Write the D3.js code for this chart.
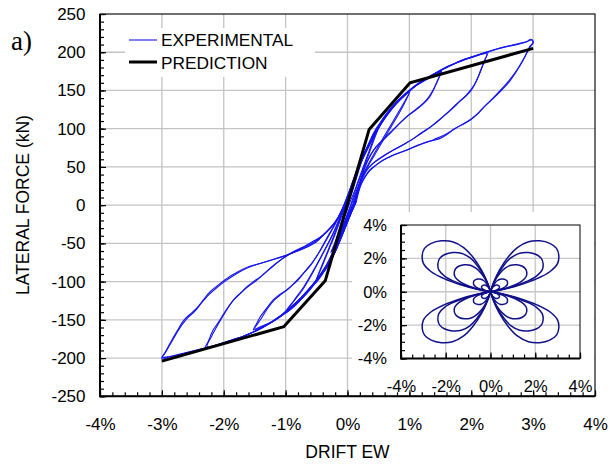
<!DOCTYPE html>
<html>
<head>
<meta charset="utf-8">
<script src="https://cdnjs.cloudflare.com/ajax/libs/d3/7.8.5/d3.min.js"></script>
<style>
body { margin: 0; background: #fff; }
svg { display: block; font-family: "Liberation Sans", Arial, sans-serif; }
</style>
</head>
<body>
<svg id="chart" width="610" height="468"></svg>
<script>
// ---- data (drift in %, force in kN) ----
var driftTicks = [-4, -3, -2, -1, 0, 1, 2, 3, 4];
var forceTicks = [-250, -200, -150, -100, -50, 0, 50, 100, 150, 200, 250];
var insetTicks = [-4, -2, 0, 2, 4];

var prediction = [[-3, -204], [-1.03, -159], [-0.36, -99], [0.35, 99], [1.01, 160], [3.0, 205]];

var cycle025 = [[0,0],[0.07,16],[0.14,34],[0.22,55],[0.27,66],[0.2,54],[0.12,36],[0.04,14],[-0.04,-6],[-0.12,-28],[-0.2,-48],[-0.27,-62],[-0.2,-52],[-0.12,-34],[-0.04,-14],[0.04,4]];
var cycle050a = [[0.04,4],[0.12,20],[0.2,38],[0.3,60],[0.4,82],[0.5,104],[0.42,94],[0.32,76],[0.2,52],[0.1,30],[0.0,8],[-0.1,-16],[-0.2,-38],[-0.3,-58],[-0.4,-78],[-0.5,-98],[-0.42,-90],[-0.3,-72],[-0.18,-50],[-0.06,-24],[0.05,0]];
var cycle050b = [[0.05,0],[0.14,22],[0.24,44],[0.34,66],[0.44,88],[0.52,106],[0.42,92],[0.3,72],[0.18,48],[0.07,26],[-0.03,4],[-0.13,-20],[-0.24,-44],[-0.35,-66],[-0.45,-86],[-0.52,-102],[-0.42,-92],[-0.3,-74],[-0.17,-50],[-0.05,-24],[0.06,0]];
var cycle100a = [[0.06,0],[0.15,20],[0.25,40],[0.38,60],[0.52,80],[0.68,102],[0.84,124],[0.94,138],[1.0,148],[0.88,140],[0.72,126],[0.56,108],[0.42,88],[0.28,66],[0.16,46],[0.06,22],[-0.04,0],[-0.14,-20],[-0.26,-42],[-0.4,-64],[-0.56,-88],[-0.72,-110],[-0.88,-127],[-1.0,-140],[-0.86,-131],[-0.7,-118],[-0.54,-102],[-0.4,-86],[-0.27,-68],[-0.15,-46],[-0.03,-22],[0.08,0]];
var cycle100b = [[0.08,0],[0.18,24],[0.3,46],[0.44,66],[0.6,88],[0.76,110],[0.9,130],[1.01,150],[0.9,143],[0.75,130],[0.6,115],[0.46,96],[0.32,74],[0.2,52],[0.09,28],[-0.02,4],[-0.12,-16],[-0.24,-38],[-0.38,-60],[-0.54,-84],[-0.7,-106],[-0.86,-124],[-1.02,-142],[-0.88,-134],[-0.72,-121],[-0.56,-106],[-0.42,-89],[-0.28,-70],[-0.15,-46],[-0.02,-20],[0.09,2]];
var cycle150a = [[0.1,0],[0.16,18],[0.23,38],[0.31,56],[0.42,72],[0.56,84],[0.69,94],[0.82,105],[0.96,116],[1.1,124],[1.22,132],[1.33,142],[1.42,156],[1.48,167],[1.52,175],
  [1.42,171],[1.28,165],[1.14,158],[1.0,149],[0.85,138],[0.7,125],[0.55,109],[0.4,89],[0.26,66],[0.14,43],[0.03,18],[-0.07,-2],[-0.2,-24],[-0.34,-44],
  [-0.42,-56],[-0.5,-67],[-0.6,-79],[-0.71,-89],[-0.85,-101],[-0.98,-111],[-1.1,-117],[-1.2,-124],[-1.3,-134],[-1.41,-146],[-1.47,-155],[-1.52,-163],
  [-1.4,-160],[-1.25,-154],[-1.1,-146],[-1.0,-139],[-0.85,-129],[-0.7,-117],[-0.55,-103],[-0.4,-87],[-0.26,-68],[-0.13,-44],[-0.01,-20],[0.1,0]];
var cycle150b = [[0.1,0],[0.17,20],[0.25,42],[0.34,60],[0.46,76],[0.6,88],[0.74,99],[0.88,110],[1.02,120],[1.15,128],[1.27,137],[1.38,150],[1.45,162],[1.51,174],
  [1.4,170],[1.25,163],[1.1,156],[0.95,146],[0.8,134],[0.65,120],[0.5,103],[0.36,82],[0.23,60],[0.12,38],[0.02,14],[-0.08,-6],[-0.22,-28],[-0.36,-48],
  [-0.46,-62],[-0.56,-74],[-0.68,-86],[-0.8,-98],[-0.94,-108],[-1.06,-116],[-1.18,-124],[-1.3,-136],[-1.4,-149],[-1.5,-162],
  [-1.38,-158],[-1.22,-152],[-1.07,-144],[-0.92,-134],[-0.77,-123],[-0.62,-110],[-0.47,-95],[-0.33,-78],[-0.2,-56],[-0.07,-32],[0.05,-8],[0.12,4]];
var cycle227a = [[0.1,0],[0.17,22],[0.26,40],[0.34,49],[0.42,55],[0.58,64],[0.74,72],[0.9,79],[1.05,86],[1.2,95],[1.35,103],[1.49,112],[1.65,123],[1.82,136],[1.98,148],[2.08,162],[2.16,178],[2.22,190],[2.27,200],
  [2.2,199],[2.05,195],[1.9,191],[1.75,186],[1.6,180],[1.5,176],[1.35,169],[1.2,162],[1.05,153],[0.9,143],[0.75,130],[0.6,114],[0.45,94],[0.3,72],[0.18,52],[0.08,30],[-0.02,8],[-0.1,-8],[-0.2,-22],[-0.39,-39],
  [-0.55,-47],[-0.7,-54],[-0.9,-62],[-1.05,-70],[-1.25,-83],[-1.41,-94],[-1.52,-100],[-1.63,-107],[-1.74,-116],[-1.84,-124],[-1.95,-136],[-2.03,-146],[-2.1,-155],[-2.17,-163],[-2.25,-178],[-2.3,-187],
  [-2.15,-184],[-2.0,-180],[-1.85,-176],[-1.7,-172],[-1.55,-167],[-1.4,-161],[-1.25,-154],[-1.1,-146],[-0.95,-136],[-0.8,-125],[-0.65,-112],[-0.5,-98],[-0.36,-84],[-0.23,-66],[-0.1,-42],[0.02,-18],[0.12,2]];
var cycle227b = [[0.12,2],[0.2,26],[0.3,44],[0.4,54],[0.55,63],[0.72,71],[0.9,79],[1.08,88],[1.25,97],[1.42,107],[1.6,120],[1.76,132],[1.92,144],[2.04,156],[2.13,171],[2.2,186],[2.25,198],
  [2.15,197],[2.0,193],[1.85,189],[1.7,184],[1.55,178],[1.4,171],[1.25,164],[1.1,156],[0.95,146],[0.8,134],[0.65,119],[0.5,101],[0.35,79],[0.22,58],[0.1,34],[0.0,10],[-0.1,-10],[-0.22,-25],[-0.4,-40],
  [-0.58,-50],[-0.76,-57],[-0.95,-65],[-1.12,-74],[-1.3,-86],[-1.45,-97],[-1.58,-105],[-1.7,-113],[-1.82,-122],[-1.93,-134],[-2.02,-146],[-2.12,-160],[-2.2,-172],[-2.27,-185],
  [-2.12,-183],[-1.97,-179],[-1.82,-175],[-1.67,-171],[-1.52,-166],[-1.37,-160],[-1.22,-153],[-1.07,-145],[-0.92,-135],[-0.77,-124],[-0.62,-111],[-0.48,-97],[-0.34,-82],[-0.21,-63],[-0.08,-38],[0.04,-14],[0.14,4]];
var cycle300a = [[0.12,2],[0.2,24],[0.28,37],[0.36,46],[0.47,53],[0.58,59],[0.75,66],[0.96,72],[1.12,78],[1.3,83],[1.49,87],[1.6,92],[1.71,99],[1.85,105],[1.98,111],[2.1,119],[2.19,127],[2.32,137],[2.46,148],[2.6,160],[2.73,175],[2.84,190],[2.93,204],[3.0,214],
  [2.96,217],[2.9,214],[2.8,212],[2.65,209],[2.5,206],[2.35,203],[2.2,199],[2.05,195],[1.9,191],[1.75,186],[1.6,181],[1.45,174],[1.3,167],[1.15,159],[1.0,150],[0.85,139],[0.7,126],[0.55,110],[0.4,88],[0.26,64],[0.15,44],[0.05,20],[-0.04,2],[-0.17,-19],[-0.39,-39],
  [-0.5,-48],[-0.66,-55],[-0.85,-61],[-1.0,-66],[-1.2,-71],[-1.4,-76],[-1.58,-80],[-1.7,-84],[-1.79,-88],[-1.88,-92],[-1.95,-96],[-2.08,-104],[-2.22,-113],[-2.33,-124],[-2.44,-135],[-2.55,-143],[-2.65,-151],[-2.75,-164],[-2.85,-178],[-2.93,-190],[-3.0,-201],
  [-2.9,-199],[-2.75,-196],[-2.6,-193],[-2.45,-190],[-2.3,-187],[-2.15,-184],[-2.0,-180],[-1.85,-176],[-1.7,-172],[-1.55,-167],[-1.4,-161],[-1.25,-154],[-1.1,-146],[-0.95,-136],[-0.8,-125],[-0.65,-112],[-0.5,-98],[-0.36,-84],[-0.23,-66],[-0.1,-42],[0.02,-18],[0.12,2]];
var cycle300b = [[0.14,4],[0.22,27],[0.31,40],[0.4,48],[0.52,56],[0.65,62],[0.82,68],[1.02,74],[1.2,80],[1.4,86],[1.55,91],[1.68,97],[1.82,104],[1.95,110],[2.08,118],[2.2,128],[2.34,139],[2.48,151],[2.62,164],[2.75,178],[2.86,193],[2.95,208],[3.0,212],
  [2.98,216],[2.88,213],[2.75,210],[2.6,208],[2.45,205],[2.3,201],[2.15,197],[2.0,193],[1.85,189],[1.7,184],[1.55,178],[1.4,172],[1.25,165],[1.1,157],[0.95,147],[0.8,136],[0.65,122],[0.5,104],[0.36,82],[0.23,60],[0.12,38],[0.02,14],[-0.08,-6],[-0.2,-22],[-0.42,-41],
  [-0.56,-50],[-0.72,-57],[-0.9,-63],[-1.08,-68],[-1.28,-73],[-1.48,-78],[-1.64,-83],[-1.76,-88],[-1.86,-93],[-1.97,-99],[-2.1,-107],[-2.24,-117],[-2.36,-128],[-2.47,-139],[-2.58,-147],[-2.68,-157],[-2.78,-170],[-2.88,-184],[-2.96,-195],[-3.0,-199],
  [-2.88,-198],[-2.72,-195],[-2.57,-192],[-2.42,-189],[-2.27,-186],[-2.12,-183],[-1.97,-179],[-1.82,-175],[-1.67,-171],[-1.52,-166],[-1.37,-160],[-1.22,-153],[-1.07,-145],[-0.92,-135],[-0.77,-124],[-0.62,-111],[-0.48,-97],[-0.34,-82],[-0.21,-63],[-0.08,-38],[0.04,-14],[0.14,4]];

var experimental = [cycle025, cycle050a, cycle050b, cycle100a, cycle100b, cycle150a, cycle150b, cycle227a, cycle227b, cycle300a, cycle300b];

// inset orbit: one lobe per amplitude (first quadrant, drift EW vs drift NS in %)
var lobe300 = [[0,0],[0.15,0.6],[0.4,1.3],[0.8,2.1],[1.2,2.65],[1.7,3.0],[2.2,3.05],[2.65,2.9],[2.95,2.6],[3.05,2.2],[3.0,1.7],[2.65,1.2],[2.1,0.8],[1.3,0.4],[0.6,0.15],[0,0]];
var lobe230 = [[0,0],[0.12,0.46],[0.31,1.0],[0.62,1.62],[0.92,2.04],[1.31,2.31],[1.69,2.35],[2.04,2.23],[2.27,2.0],[2.35,1.69],[2.31,1.31],[2.04,0.92],[1.62,0.62],[1.0,0.31],[0.46,0.12],[0,0]];
var lobe160 = [[0,0],[0.08,0.32],[0.21,0.69],[0.42,1.11],[0.64,1.4],[0.9,1.59],[1.17,1.62],[1.4,1.54],[1.56,1.38],[1.62,1.17],[1.59,0.9],[1.4,0.64],[1.11,0.42],[0.69,0.21],[0.32,0.08],[0,0]];
var lobe075 = [[0,0],[0.04,0.15],[0.1,0.33],[0.2,0.53],[0.3,0.66],[0.43,0.75],[0.55,0.76],[0.66,0.73],[0.74,0.65],[0.76,0.55],[0.75,0.43],[0.66,0.3],[0.53,0.2],[0.33,0.1],[0.15,0.04],[0,0]];
var lobe040 = [[0,0],[0.02,0.08],[0.05,0.17],[0.1,0.27],[0.16,0.34],[0.22,0.39],[0.29,0.4],[0.34,0.38],[0.38,0.34],[0.4,0.29],[0.39,0.22],[0.34,0.16],[0.27,0.1],[0.17,0.05],[0.08,0.02],[0,0]];
var lobes = [lobe300, lobe230, lobe160, lobe075, lobe040];
var quadrants = [[1, 1], [-1, 1], [-1, -1], [1, -1]];

// ---- main chart ----
var svg = d3.select("#chart");
var x = d3.scaleLinear().domain([-4, 4]).range([100, 595]);
var y = d3.scaleLinear().domain([-250, 250]).range([396.3, 14]);

var grid = svg.append("g");
grid.selectAll("line.v").data(driftTicks.slice(1, -1)).enter().append("line")
    .attr("x1", function(d) { return x(d); }).attr("x2", function(d) { return x(d); })
    .attr("y1", y(250)).attr("y2", y(-250))
    .attr("stroke", "#c4c4c4").attr("stroke-width", 1.3);
grid.selectAll("line.h").data(forceTicks.slice(1, -1)).enter().append("line")
    .attr("y1", function(d) { return y(d); }).attr("y2", function(d) { return y(d); })
    .attr("x1", x(-4)).attr("x2", x(4))
    .attr("stroke", "#c4c4c4").attr("stroke-width", 1.3);

var line = d3.line()
    .x(function(d) { return x(d[0]); })
    .y(function(d) { return y(d[1]); })
    .curve(d3.curveCatmullRom.alpha(0.5));

svg.append("g").selectAll("path").data(experimental).enter().append("path")
    .attr("d", line)
    .attr("fill", "none").attr("stroke", "#1414f0").attr("stroke-width", 1.1);

svg.append("path")
    .attr("d", d3.line().x(function(d) { return x(d[0]); }).y(function(d) { return y(d[1]); })(prediction))
    .attr("fill", "none").attr("stroke", "#000").attr("stroke-width", 3);

// legend
svg.append("rect").attr("x", 125).attr("y", 28).attr("width", 190).attr("height", 49).attr("fill", "#fff");
svg.append("line").attr("x1", 129).attr("x2", 157).attr("y1", 40).attr("y2", 40).attr("stroke", "#1414f0").attr("stroke-width", 1.1);
svg.append("line").attr("x1", 129).attr("x2", 157).attr("y1", 62).attr("y2", 62).attr("stroke", "#000").attr("stroke-width", 3);
svg.append("text").attr("x", 161).attr("y", 46).attr("font-size", 17.3).text("EXPERIMENTAL");
svg.append("text").attr("x", 161).attr("y", 69).attr("font-size", 17.3).text("PREDICTION");

// ---- inset ----
var xi = d3.scaleLinear().domain([-4, 4]).range([401, 580]);
var yi = d3.scaleLinear().domain([-4, 4]).range([358.5, 225]);

svg.append("rect").attr("x", 352).attr("y", 212).attr("width", 242).attr("height", 183).attr("fill", "#fff");
var ig = svg.append("g");
ig.selectAll("line.v").data([-2, 0, 2]).enter().append("line")
    .attr("x1", function(d) { return xi(d); }).attr("x2", function(d) { return xi(d); })
    .attr("y1", yi(4)).attr("y2", yi(-4)).attr("stroke", "#c8c8c8").attr("stroke-width", 1.3);
ig.selectAll("line.h").data([-2, 0, 2]).enter().append("line")
    .attr("y1", function(d) { return yi(d); }).attr("y2", function(d) { return yi(d); })
    .attr("x1", xi(-4)).attr("x2", xi(4)).attr("stroke", "#c8c8c8").attr("stroke-width", 1.3);

var lobeLine = d3.line().curve(d3.curveCatmullRom.alpha(0.5));
lobes.forEach(function(lobe) {
    quadrants.forEach(function(q) {
        ig.append("path")
            .attr("d", lobeLine(lobe.map(function(p) { return [xi(q[0] * p[0]), yi(q[1] * p[1])]; })))
            .attr("fill", "none").attr("stroke", "#101088").attr("stroke-width", 1.5);
    });
});

function styleAxis(g, size) {
    g.attr("font-family", null).attr("font-size", size);
    g.selectAll("text").attr("fill", "#000");
    g.selectAll("line").attr("stroke", "#000").attr("stroke-width", 1.2);
    g.select(".domain").remove();
}

var insetMinor = d3.range(-4, 4.01, 0.5);
ig.append("g").attr("transform", "translate(0," + yi(-4) + ")")
    .call(d3.axisBottom(xi).tickValues(insetMinor).tickFormat("").tickSize(-4))
    .call(styleAxis, 16);
ig.append("g").attr("transform", "translate(" + xi(-4) + ",0)")
    .call(d3.axisLeft(yi).tickValues(insetMinor).tickFormat("").tickSize(-4))
    .call(styleAxis, 16);
ig.append("g").attr("transform", "translate(0," + yi(-4) + ")")
    .call(d3.axisBottom(xi).tickValues(insetTicks).tickFormat(function(d) { return d + "%"; }).tickSize(-6).tickPadding(22))
    .call(styleAxis, 16.5);
ig.append("g").attr("transform", "translate(" + xi(-4) + ",0)")
    .call(d3.axisLeft(yi).tickValues(insetTicks).tickFormat(function(d) { return d + "%"; }).tickSize(-6).tickPadding(14))
    .call(styleAxis, 16.5);
ig.append("rect").attr("x", xi(-4)).attr("y", yi(4)).attr("width", xi(4) - xi(-4)).attr("height", yi(-4) - yi(4))
    .attr("fill", "none").attr("stroke", "#000").attr("stroke-width", 1);
ig.append("path").attr("d", "M" + xi(-4) + "," + yi(4) + "V" + yi(-4) + "H" + xi(4))
    .attr("fill", "none").attr("stroke", "#000").attr("stroke-width", 2);

// ---- main axes ----
var forceMinor = d3.range(-250, 251, 10);
var driftMinor = d3.range(-4, 4.01, 0.2);
svg.append("g").attr("transform", "translate(0," + y(-250) + ")")
    .call(d3.axisBottom(x).tickValues(driftMinor).tickFormat("").tickSize(-4))
    .call(styleAxis, 17);
svg.append("g").attr("transform", "translate(" + x(-4) + ",0)")
    .call(d3.axisLeft(y).tickValues(forceMinor).tickFormat("").tickSize(-4))
    .call(styleAxis, 17);
svg.append("g").attr("transform", "translate(0," + y(-250) + ")")
    .call(d3.axisBottom(x).tickValues(driftTicks).tickFormat(function(d) { return d + "%"; }).tickSize(-6).tickPadding(22))
    .call(styleAxis, 17);
svg.append("g").attr("transform", "translate(" + x(-4) + ",0)")
    .call(d3.axisLeft(y).tickValues(forceTicks).tickFormat(function(d) { return String(d); }).tickSize(-6).tickPadding(14.5))
    .call(styleAxis, 17);

svg.append("rect").attr("x", x(-4)).attr("y", y(250)).attr("width", x(4) - x(-4)).attr("height", y(-250) - y(250))
    .attr("fill", "none").attr("stroke", "#111").attr("stroke-width", 1.2);
svg.append("path").attr("d", "M" + x(-4) + "," + y(250) + "V" + y(-250) + "H" + x(4))
    .attr("fill", "none").attr("stroke", "#000").attr("stroke-width", 2);

// titles
svg.append("text").attr("x", 347.5).attr("y", 458).attr("text-anchor", "middle").attr("font-size", 17.5).text("DRIFT EW");
svg.append("text").attr("transform", "translate(29,205) rotate(-90)").attr("text-anchor", "middle")
    .attr("font-size", 17.5).text("LATERAL FORCE (kN)");
svg.append("text").attr("x", 11).attr("y", 50).attr("font-family", "'Liberation Serif', 'Times New Roman', serif")
    .attr("font-size", 27).text("a)");
</script>
</body>
</html>
